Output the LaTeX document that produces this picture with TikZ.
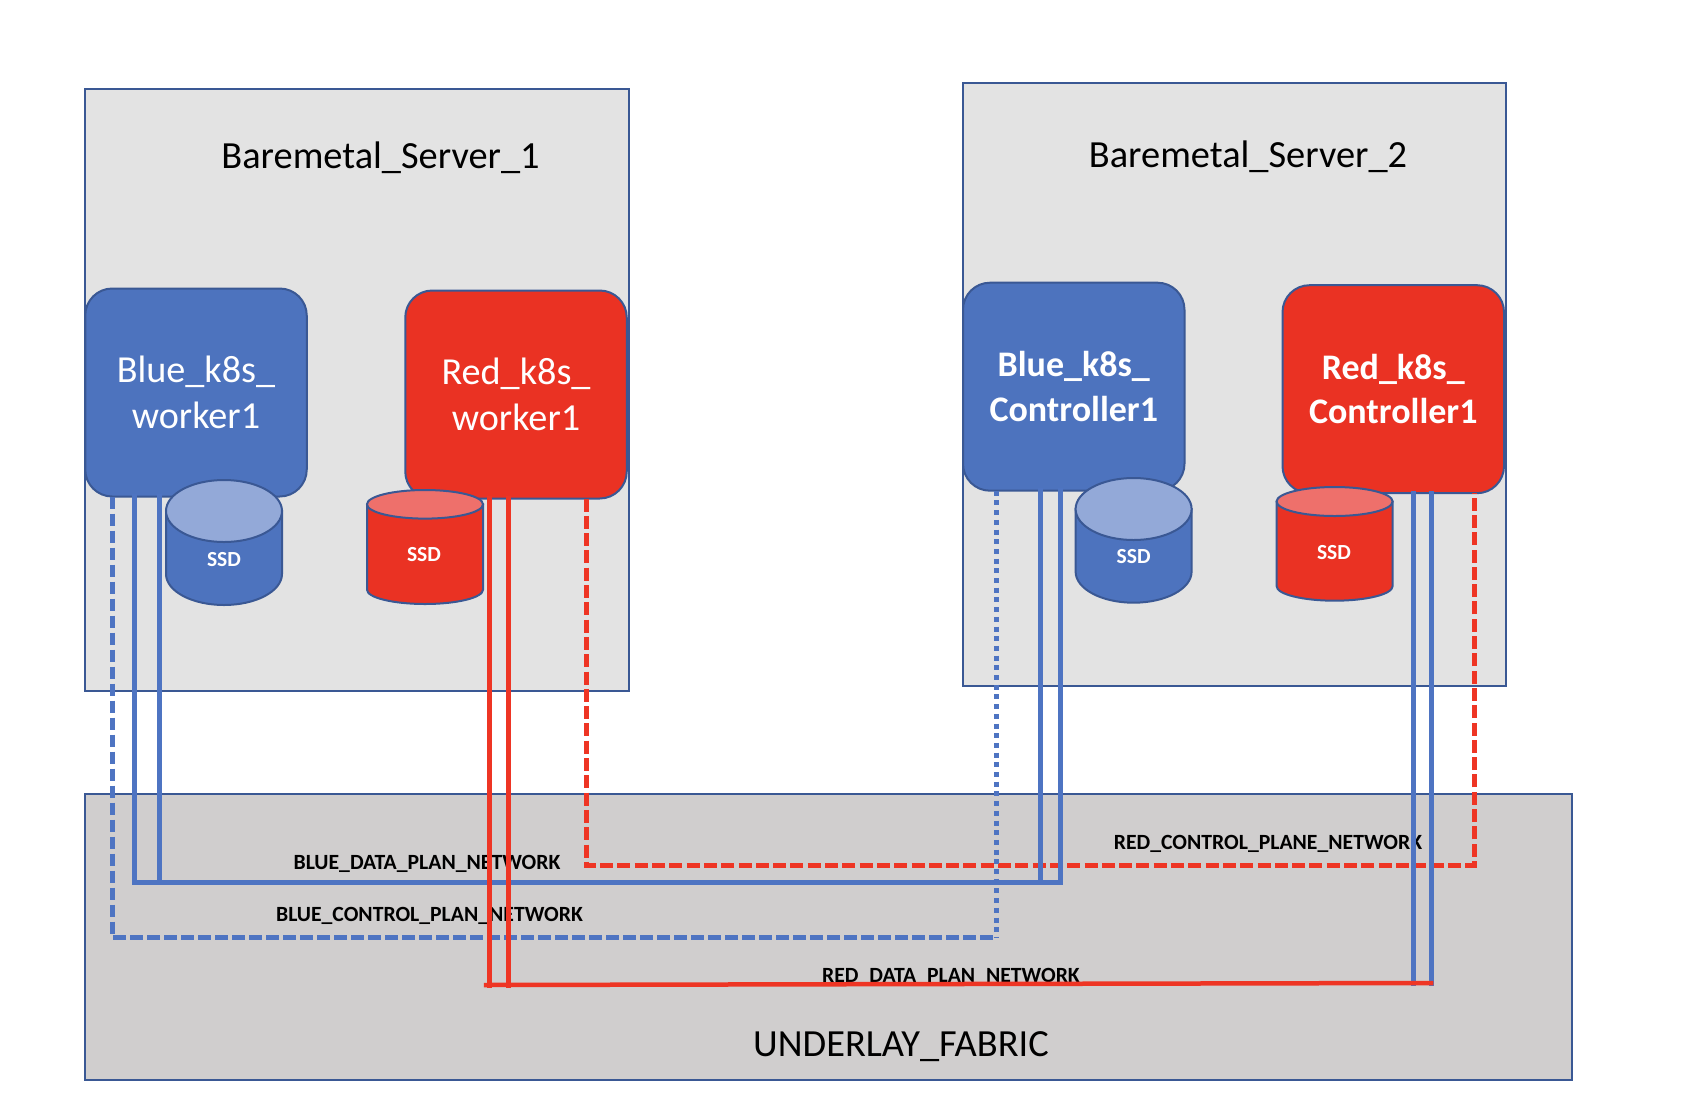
\documentclass[tikz,border=0pt]{standalone}
\usepackage{fontspec}
\setmainfont{Carlito}
\definecolor{nodeblue}{RGB}{77,115,190}
\definecolor{nodered}{RGB}{234,50,35}
\definecolor{lineblue}{RGB}{78,116,194}
\definecolor{linered}{RGB}{238,53,36}
\definecolor{topblue}{RGB}{147,169,216}
\definecolor{topred}{RGB}{238,112,107}
\definecolor{edgeblue}{RGB}{58,88,148}
\definecolor{servergray}{RGB}{227,227,227}
\definecolor{fabricgray}{RGB}{208,206,206}
\tikzstyle{server} = [draw=edgeblue, line width=2pt, fill=servergray, inner sep=0pt, outer sep=0pt]
\tikzstyle{fabric} = [draw=edgeblue, line width=2pt, fill=fabricgray, inner sep=0pt, outer sep=0pt, minimum width=1487pt, minimum height=286pt]
\tikzstyle{vm} = [draw=edgeblue, line width=2pt, rounded corners=27pt, minimum width=221.5pt, minimum height=208pt, inner sep=0pt, outer sep=0pt, text=white, align=center]
\tikzstyle{disk} = [draw=edgeblue, line width=2pt]
\tikzstyle{ssd} = [text=white, font=\fontsize{21.5}{24}\selectfont\bfseries]
\tikzstyle{title} = [font=\fontsize{38.4}{44}\selectfont]
\tikzstyle{netlabel} = [font=\fontsize{21.7}{24}\selectfont\bfseries]
\tikzstyle{bluenet} = [line width=5pt, color=lineblue, line cap=rect]
\tikzstyle{rednet} = [line width=5pt, color=linered, line cap=rect]
\tikzstyle{bluedash} = [line width=5pt, color=lineblue, dash pattern=on 12.5pt off 4.5pt]
\tikzstyle{bluedot} = [line width=5pt, color=lineblue, dash pattern=on 5pt off 4.7pt]
\tikzstyle{reddash} = [line width=5pt, color=linered, dash pattern=on 13pt off 4.3pt]
\begin{document}
\begin{tikzpicture}[x=1pt, y=-1pt]
\useasboundingbox (0,0) rectangle (1690,1114);

% Servers and fabric
\node[server, minimum width=544pt, minimum height=602.5pt] (server1) at (357,389.75) {};
\node[server, minimum width=543pt, minimum height=603pt] (server2) at (1234.5,384.5) {};
\node[fabric] (fabric) at (828.5,937) {};

\node[title] (server1name) at (380.5,158) {Baremetal\_Server\_1};
\node[title] (server2name) at (1248,157) {Baremetal\_Server\_2};
\node[title] (fabricname) at (901,1046.5) {UNDERLAY\_FABRIC};

% Network names
\node[netlabel] (bluedataname) at (427,864) {BLUE\_DATA\_PLAN\_NETWORK};
\node[netlabel] (bluectrlname) at (429.5,916) {BLUE\_CONTROL\_PLAN\_NETWORK};
\node[netlabel] (redctrlname) at (1268,844) {RED\_CONTROL\_PLANE\_NETWORK};
\node[netlabel] (reddataname) at (951,977) {RED\_DATA\_PLAN\_NETWORK};

% VMs
\node[vm, fill=nodeblue, font=\fontsize{38.2}{46}\selectfont] (blueworker) at (196,392.5) {Blue\_k8s\_\\worker1};
\node[vm, fill=nodered, font=\fontsize{38.2}{46}\selectfont] (redworker) at (516,394.5) {Red\_k8s\_\\worker1};
\node[vm, fill=nodeblue, font=\fontsize{36}{44.5}\selectfont\bfseries] (bluectrl) at (1073.75,386.7) {Blue\_k8s\_\\Controller1};
\node[vm, fill=nodered, font=\fontsize{36}{44.5}\selectfont\bfseries] (redctrl) at (1393.25,389.2) {Red\_k8s\_\\Controller1};

% Disks
\draw[disk, fill=nodeblue] (166,511) -- (166,574) arc[start angle=180, end angle=360, x radius=58pt, y radius=31pt] -- (282,511) -- cycle;
\draw[disk, fill=topblue] (224,511) ellipse [x radius=58pt, y radius=31pt];
\draw[disk, fill=nodered] (367,504.3) -- (367,589.7) arc[start angle=180, end angle=360, x radius=58pt, y radius=14.3pt] -- (483,504.3) -- cycle;
\draw[disk, fill=topred] (425,504.3) ellipse [x radius=58pt, y radius=14.3pt];
\draw[disk, fill=nodeblue] (1075.6,509) -- (1075.6,571.7) arc[start angle=180, end angle=360, x radius=58pt, y radius=31pt] -- (1191.6,509) -- cycle;
\draw[disk, fill=topblue] (1133.6,509) ellipse [x radius=58pt, y radius=31pt];
\draw[disk, fill=nodered] (1276.6,501.5) -- (1276.6,586.2) arc[start angle=180, end angle=360, x radius=58pt, y radius=14.5pt] -- (1392.6,501.5) -- cycle;
\draw[disk, fill=topred] (1334.6,501.5) ellipse [x radius=58pt, y radius=14.5pt];
\node[ssd] (bluessd1) at (224,560) {SSD};
\node[ssd] (redssd1) at (424,555) {SSD};
\node[ssd] (bluessd2) at (1133.6,556.7) {SSD};
\node[ssd] (redssd2) at (1334,552.7) {SSD};

% Corners of the networks
\coordinate (rcw) at (586,865);
\coordinate (rcc) at (1474,865);
\coordinate (bcw) at (112.5,937.7);
\coordinate (bcc) at (996.3,937.7);
\coordinate (bdw1) at (134.5,882);
\coordinate (bdw2) at (159.5,882);
\coordinate (bdc1) at (1040.5,882);
\coordinate (bdc2) at (1060,882);
\coordinate (rdstart) at (486,985);
\coordinate (rdw1) at (489.4,985);
\coordinate (rdw2) at (508.3,985);
\coordinate (rdc1) at (1413.4,983);
\coordinate (rdc2) at (1431,983);

% Control networks
\draw[reddash] (redworker.south -| rcw) -- (rcw) -- (rcc) -- (redctrl.south -| rcc);
\draw[bluedash] (blueworker.south -| bcw) -- (bcw) -- (bcc);
\draw[bluedot] (bluectrl.south -| bcc) -- (bcc);

% Data networks
\draw[bluenet] (blueworker.south -| bdw1) -- (bdw1) -- (bdc2) -- (bluectrl.south -| bdc2);
\draw[bluenet] (blueworker.south -| bdw2) -- (bdw2);
\draw[bluenet] (bluectrl.south -| bdc1) -- (bdc1);
\draw[bluenet] (redctrl.south -| rdc1) -- (rdc1);
\draw[bluenet] (redctrl.south -| rdc2) -- (rdc2);
\draw[rednet] (redworker.south -| rdw1) -- (rdw1);
\draw[rednet] (redworker.south -| rdw2) -- (rdw2);
\draw[rednet, line width=4.5pt] (rdstart) -- (rdc2);
\end{tikzpicture}
\end{document}
